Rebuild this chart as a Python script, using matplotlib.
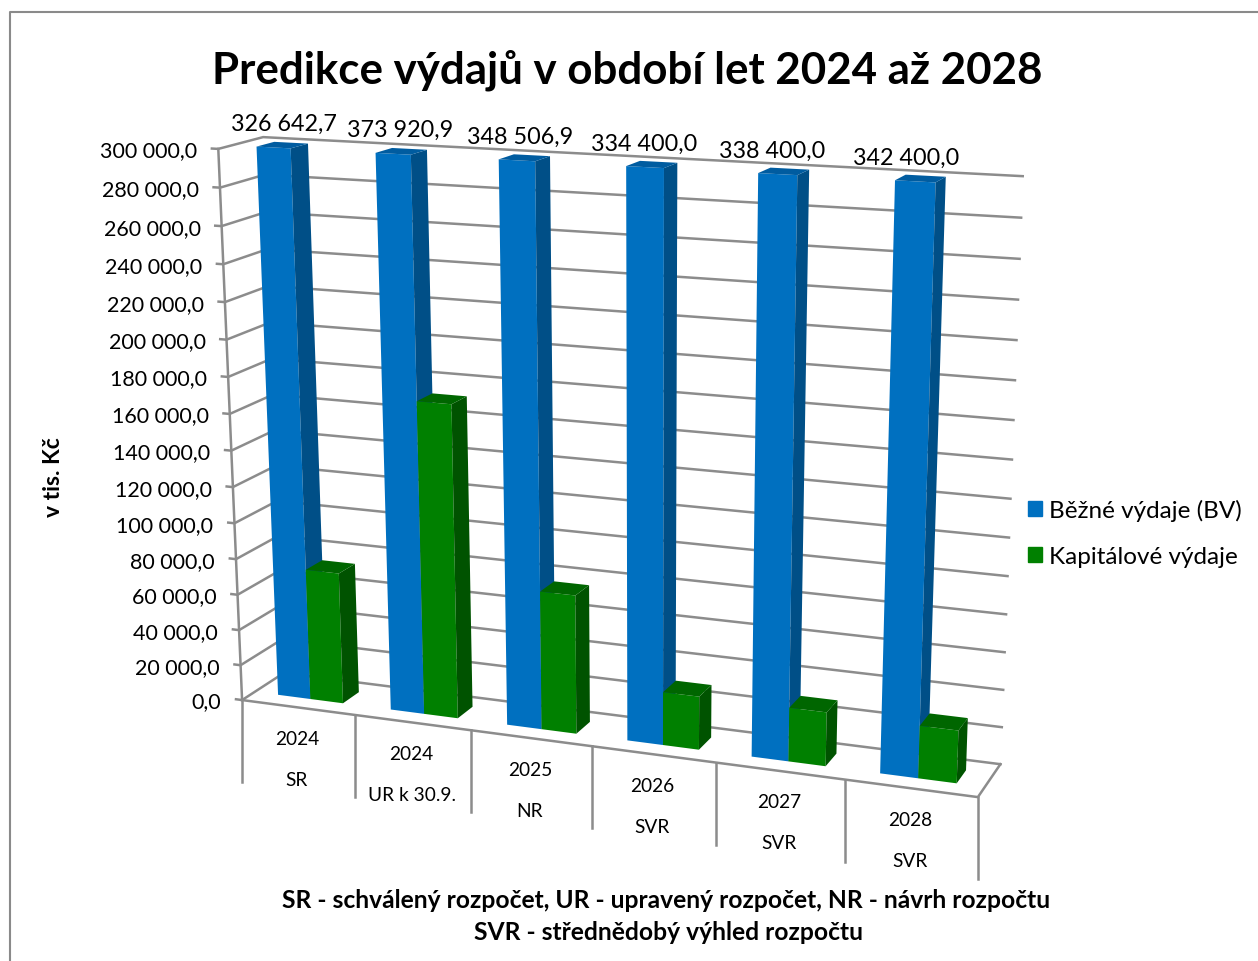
import numpy as np
import matplotlib
matplotlib.use("Agg")
import matplotlib.pyplot as plt
from matplotlib.patches import Patch
from mpl_toolkits.mplot3d import proj3d

plt.rcParams['font.family'] = ['Lato', 'DejaVu Sans']

years = ["2024", "2024", "2025", "2026", "2027", "2028"]
stages = ["SR", "UR k 30.9.", "NR", "SVR", "SVR", "SVR"]
bezne = [326642.7, 373920.9, 348506.9, 334400.0, 338400.0, 342400.0]
kapitalove = [73500, 172000, 76000, 29000, 29000, 28000]
value_ticks = list(range(0, 300001, 20000))
axis_max = 300000

GRID = "#8c8c8c"
blue_faces = ["#00000000", "#005ca0", "#0070c0", "#00000000", "#00000000", "#004f87"]
green_faces = ["#00000000", "#006600", "#008000", "#00000000", "#00000000", "#005300"]


def fit_camera():
    # world corners (category, depth, value/axis_max) -> pixels in the picture
    pts = [
        (0, 0, 0, 242, 701), (6, 0, 0, 978, 798), (6, 1, 0, 1000, 766),
        (0, 1, 0, 284, 674), (0, 0, 1, 218, 150), (0, 1, 1, 263, 138),
        (6, 1, 1, 1023, 178), (0, 0, 160 / 300, 230, 415), (6, 1, 160 / 300, 1012, 459),
    ]
    rows = []
    for x, y, z, u, v in pts:
        rows.append([x, y, z, 1, 0, 0, 0, 0, -u * x, -u * y, -u * z, -u])
        rows.append([0, 0, 0, 0, x, y, z, 1, -v * x, -v * y, -v * z, -v])
    P = np.linalg.svd(np.array(rows, dtype=float))[2][-1].reshape(3, 4)
    P = P @ np.diag([1, 1, 1 / axis_max, 1])
    return np.vstack([P[0], P[1], [0, 1, 0, 0], P[2]])


M = fit_camera()


def to_px(x, y, z):
    u, v, _ = proj3d.proj_transform(x, y, z, M)
    return u, v


fig = plt.figure(figsize=(12.58, 9.62), dpi=100, facecolor="white")
ax = fig.add_axes([0, 0, 1, 1], projection="3d", computed_zorder=False)
ax.set_axis_off()
ax.set_proj_type("ortho")  # no clipping of Line3D to [-1, 1], the matrix gives pixels
ax.get_proj = lambda: M
ax.apply_aspect = lambda position=None: None
ax.viewLim.intervalx = (0, 1258)
ax.viewLim.intervaly = (962, 0)

n = len(years)

# walls and floor
for v in value_ticks:
    ax.plot([-0.055, 0, 0, n], [0, 0, 1, 1], [v, v, v, v], color=GRID, lw=1.8, zorder=1)
ax.plot([0, 0], [0, 0], [0, axis_max], color=GRID, lw=1.8, zorder=1)
ax.plot([0, n, n], [0, 0, 1], [0, 0, 0], color=GRID, lw=1.8, zorder=1)

# bars, blue and green side by side, cut off at the top of the axis
bar_w = 0.29
for i in range(n):
    ax.bar3d(i + 0.21, 0.3, 0, bar_w, 0.4, min(bezne[i], axis_max),
             color=blue_faces, shade=False, zorder=2 + 2 * i)
    ax.bar3d(i + 0.21 + bar_w, 0.3, 0, bar_w, 0.4, min(kapitalove[i], axis_max),
             color=green_faces, shade=False, zorder=3 + 2 * i)

# overlay in picture pixels for the text
ov = fig.add_axes([0, 0, 1, 1])
ov.set_xlim(0, 1258)
ov.set_ylim(962, 0)
ov.axis("off")
ov.patch.set_alpha(0)

ov.plot([10, 10, 1258], [962, 13, 13], color="#8a8a8a", lw=1.5)

ov.text(627, 70, "Predikce výdajů v období let 2024 až 2028", fontsize=31.6, fontweight="bold",
        ha="center", va="center", color="black")

for v in value_ticks:
    u, w = to_px(0, 0, v)
    ov.text(u - 21, w + 1.5, f"{v:,.1f}".replace(",", " ").replace(".", ","), fontsize=15.5,
            ha="right", va="center", color="black")

for i in range(n):
    u, w = to_px(i + 0.5, 0.5, axis_max)
    label = f"{bezne[i]:,.1f}".replace(",", " ").replace(".", ",")
    ov.text(u - 15 - 4 * i, w - 22.5, label, fontsize=16.8, ha="center", va="center", color="black")

    u, w = to_px(i + 0.5, 0, 0)
    ov.text(u - 1, w + 31, years[i], fontsize=13.8, ha="center", va="center", color="black")
    ov.text(u - 1, w + 72, stages[i], fontsize=13.8, ha="center", va="center", color="black")

for i in range(n + 1):
    u, w = to_px(i, 0, 0)
    ov.plot([u, u], [w, w + 82], color=GRID, lw=1.8)

ov.text(54, 477, "v tis. Kč", rotation=90, fontsize=16.5, fontweight="bold", ha="center", va="center")
ov.text(666, 901, "SR - schválený rozpočet, UR - upravený rozpočet, NR - návrh rozpočtu",
        fontsize=17.7, fontweight="bold", ha="center", va="center")
ov.text(668, 933, "SVR - střednědobý výhled rozpočtu", fontsize=17.7, fontweight="bold",
        ha="center", va="center")

fig.legend(handles=[Patch(color="#0070c0"), Patch(color="#008000")],
           labels=["Běžné výdaje (BV)", "Kapitálové výdaje"],
           loc="center left", bbox_to_anchor=(1028 / 1258, 1 - 534 / 962), frameon=False,
           fontsize=17.5, handlelength=0.58, handleheight=0.58, handletextpad=0.29,
           labelspacing=1.0, borderaxespad=0, borderpad=0)

fig.savefig("out.png", dpi=100)
